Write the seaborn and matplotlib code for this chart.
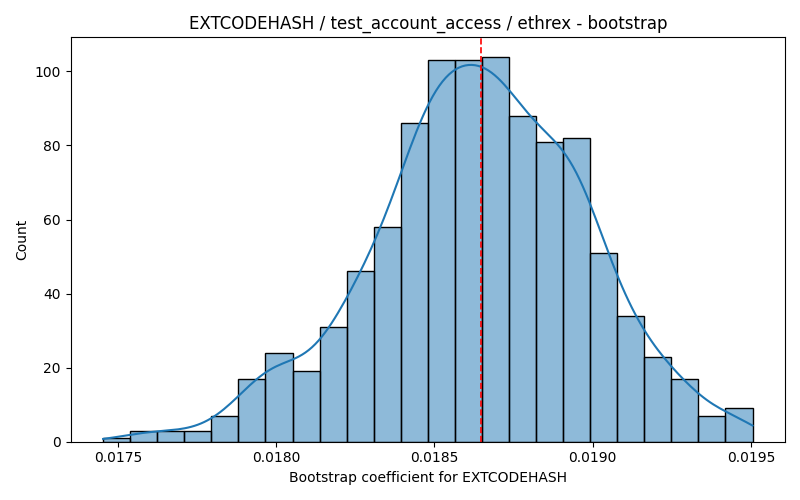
import numpy as np
import pandas as pd
import matplotlib
matplotlib.use("Agg")
import matplotlib.pyplot as plt
import seaborn as sns

# bootstrap histogram
counts = [1, 3, 3, 3, 7, 17, 24, 19, 31, 46, 58, 86,
          103, 103, 104, 88, 81, 82, 51, 34, 23, 17, 7, 9]
lo = 0.017453
hi = 0.019505
point_estimate = 0.018647
name = "EXTCODEHASH"

edges = np.linspace(lo, hi, len(counts) + 1)
centers = (edges[:-1] + edges[1:]) / 2
# zero-weight end points so the kde spans the full data range
df = pd.DataFrame({
    "coef": np.concatenate([[lo], centers, [hi]]),
    "w": np.concatenate([[0], counts, [0]]),
})

fig, ax = plt.subplots(figsize=(8, 5), dpi=100)
sns.histplot(data=df, x="coef", weights="w", bins=len(counts),
             binrange=(lo, hi), kde=True,
             kde_kws=dict(bw_adjust=0.38), edgecolor="black", ax=ax)
ax.axvline(point_estimate, color="red", linestyle="--", linewidth=1.2)
ax.set_title(f"{name} / test_account_access / ethrex - bootstrap")
ax.set_xlabel(f"Bootstrap coefficient for {name}")
ax.set_ylabel("Count")
plt.tight_layout()
plt.savefig("out.png")
